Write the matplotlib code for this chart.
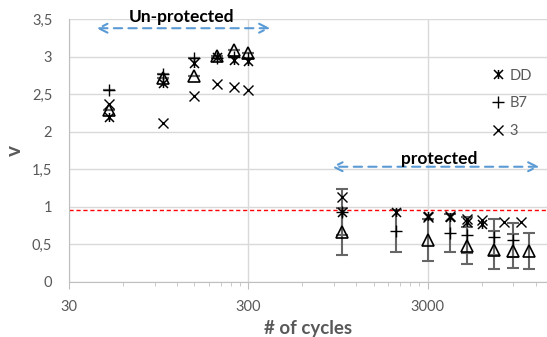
import matplotlib.pyplot as plt
import numpy as np
from matplotlib.path import Path
from matplotlib.ticker import FixedLocator, NullFormatter

plt.rcParams['font.family'] = ['Lato', 'DejaVu Sans']

# series
dd_x = [50, 100, 150, 200, 250, 300, 1000, 2000, 3000, 4000, 5000, 6000]
dd_y = [2.19, 2.65, 2.91, 3.00, 2.96, 2.94, 0.925, 0.925, 0.87, 0.86, 0.80, 0.77]

b7_x = [50, 100, 150, 200, 250, 300, 1000, 2000, 4000, 5000, 7000, 9000]
b7_y = [2.56, 2.77, 2.98, 2.98, 3.00, 2.98, 0.93, 0.68, 0.653, 0.623, 0.59, 0.556]
b7_err = [0, 0, 0, 0, 0, 0, 0.31, 0.28, 0.255, 0.245, 0.24, 0.225]

s3_x = [50, 100, 150, 200, 250, 300, 1000, 3000, 4000, 5000, 6000, 8000, 10000]
s3_y = [2.37, 2.12, 2.47, 2.64, 2.60, 2.55, 1.133, 0.867, 0.87, 0.83, 0.82, 0.79, 0.80]

tri_x = [50, 100, 150, 200, 250, 300, 1000, 3000, 5000, 7000, 9000, 11000]
tri_y = [2.29, 2.72, 2.74, 3.01, 3.09, 3.05, 0.667, 0.556, 0.48, 0.42, 0.41, 0.41]
tri_err = [0, 0, 0, 0, 0, 0, 0.31, 0.28, 0.245, 0.25, 0.23, 0.235]

limit = 0.95

y_ticks = [0, 0.5, 1, 1.5, 2, 2.5, 3, 3.5]
y_labels = ['0', '0,5', '1', '1,5', '2', '2,5', '3', '3,5']
x_ticks = [30, 300, 3000]
x_labels = ['30', '300', '3000']

grey = '#595959'
grid = '#d9d9d9'

# excel style asterisk: an x with a vertical bar
ast = Path([(-1, -1), (1, 1), (-1, 1), (1, -1), (0, -1), (0, 1)],
           [Path.MOVETO, Path.LINETO, Path.MOVETO, Path.LINETO, Path.MOVETO, Path.LINETO])

fig = plt.figure(figsize=(5.47, 3.37), dpi=100)
ax = fig.add_axes([0.1261, 0.164, 0.8739, 0.779])

ax.set_xscale('log')
ax.set_xlim(30, 13900)
ax.set_ylim(0, 3.5)

# error bars first so the markers sit on top
ax.errorbar(b7_x, b7_y, yerr=b7_err, fmt='none', ecolor='#666666', elinewidth=1.5, capsize=4, capthick=1.5, zorder=2)
ax.errorbar(tri_x, tri_y, yerr=tri_err, fmt='none', ecolor='#666666', elinewidth=1.5, capsize=4, capthick=1.5, zorder=2)

ax.plot(dd_x, dd_y, ls='none', marker=ast, ms=6.5, mfc='none', mec='black', mew=1.1, label='DD', zorder=3)
ax.plot(b7_x, b7_y, ls='none', marker='+', ms=8, mec='black', mew=1.0, label='B7', zorder=3)
ax.plot(s3_x, s3_y, ls='none', marker='x', ms=7, mec='black', mew=1.0, label='3', zorder=3)
ax.plot(tri_x, tri_y, ls='none', marker='^', ms=8, mfc='none', mec='black', mew=1.2, zorder=3)

ax.axhline(limit, color='red', ls=(0, (3, 2)), lw=1, zorder=2)

# arrows and region labels
ax.annotate('', xy=(42.6, 3.38), xytext=(398, 3.38),
            arrowprops=dict(arrowstyle='<->', color='#5b9bd5', lw=1.5, ls=(0, (4, 3)),
                            mutation_scale=16, shrinkA=0, shrinkB=0))
ax.text(128, 3.53, 'Un-protected', ha='center', va='center', fontsize=12.5, fontweight='bold', clip_on=False)
ax.annotate('', xy=(872, 1.533), xytext=(12600, 1.533),
            arrowprops=dict(arrowstyle='<->', color='#5b9bd5', lw=1.5, ls=(0, (4, 3)),
                            mutation_scale=16, shrinkA=0, shrinkB=0))
ax.text(3500, 1.64, 'protected', ha='center', va='center', fontsize=12.5, fontweight='bold')

# axes styling
ax.set_yticks(y_ticks)
ax.set_yticklabels(y_labels)
ax.xaxis.set_major_locator(FixedLocator(x_ticks))
ax.set_xticklabels(x_labels)
minor = [m * d for d in [30, 300, 3000] for m in range(2, 10)]
ax.xaxis.set_minor_locator(FixedLocator(minor))
ax.xaxis.set_minor_formatter(NullFormatter())
ax.tick_params(axis='y', length=0, pad=12, labelsize=10.5, labelcolor=grey)
ax.tick_params(axis='x', which='major', length=5, color='#bfbfbf', pad=8, labelsize=10.5, labelcolor=grey)
ax.tick_params(axis='x', which='minor', length=3, color='#bfbfbf')
ax.grid(True, which='major', color=grid, lw=1)
ax.set_axisbelow(True)
for s in ['top', 'right']:
    ax.spines[s].set_visible(False)
for s in ['left', 'bottom']:
    ax.spines[s].set_color('#bfbfbf')

ax.set_xlabel('# of cycles', fontsize=13.5, fontweight='bold', color=grey)
ax.xaxis.set_label_coords(0.5, -0.145)
ax.set_ylabel('v', fontsize=15, fontweight='bold', color=grey)
ax.yaxis.set_label_coords(-0.092, 0.5)

leg = ax.legend(loc='upper left', bbox_to_anchor=(0.87, 0.84), frameon=False, fontsize=10.5,
                labelspacing=0.95, handlelength=0.8, handletextpad=0.4, borderpad=0)
for t in leg.get_texts():
    t.set_color(grey)

plt.savefig('out.png', dpi=100)
